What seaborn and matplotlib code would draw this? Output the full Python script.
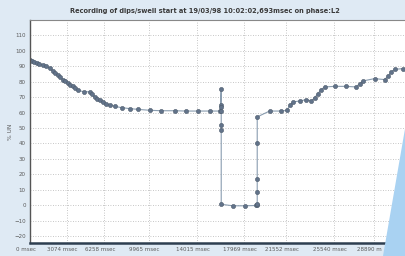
import matplotlib.pyplot as plt
import matplotlib.patches as mpatches
import matplotlib.transforms as mtransforms
from matplotlib.ticker import MultipleLocator
import pandas as pd
import seaborn as sns

# voltage level of phase L2 during the dip
time_ms = [0, 190, 378, 590, 798, 1080, 1361, 1640, 1916, 2130, 2336, 2550,
           2756, 2970, 3176, 3390, 3597, 3800, 4017, 4496, 5000, 5200, 5420,
           5630, 5840, 6100, 6403, 6750, 7101, 7700, 8361, 9059, 10042, 11025,
           12143, 13126, 14101, 15084, 15983,
           16067, 16067, 16067, 16067, 16067, 16067, 16067,
           17042, 18084, 18950, 19034,
           19092, 19092, 19092, 19092, 19092,
           20126, 21109, 21613, 21807, 22084, 22647, 23210, 23630, 23908,
           24185, 24471, 24748, 25588, 26571, 27412, 27689, 27966, 28950,
           29790, 30067, 30353, 30630, 31328]
level_pct = [94.3, 93.6, 92.8, 92.2, 91.7, 90.8, 90.0, 88.6, 87.0, 85.9, 84.6, 83.0,
             81.4, 80.3, 79.2, 78.1, 77.0, 75.7, 74.4, 73.6, 73.4, 71.8, 70.1,
             69.0, 68.0, 66.8, 65.8, 64.9, 64.1, 63.2, 62.6, 62.1, 61.5, 61.2,
             61.2, 61.0, 61.0, 61.0, 61.0,
             75.5, 64.7, 63.6, 61.0, 51.8, 48.5, 0.6,
             -0.4, -0.4, -0.2, 0.0,
             0.5, 8.6, 16.8, 40.6, 57.2,
             61.0, 61.0, 61.5, 64.7, 66.9, 67.5, 68.4, 67.5, 69.5,
             72.3, 74.9, 76.6, 77.0, 77.0, 76.6, 78.8, 80.5, 82.0,
             81.4, 83.5, 86.3, 88.0, 88.5]

tick_ms = [0, 3074, 6258, 9965, 14015, 17969, 21552, 25540, 28890]
tick_labels = ["0 msec", "3074 msec", "6258 msec", "9965 msec", "14015 msec",
               "17969 msec", "21552 msec", "25540 msec", "28890 m"]
y_ticks = list(range(-20, 111, 10))

df = pd.DataFrame({"t": time_ms, "v": level_pct})

sns.set_style("white")
plt.rcParams['font.family'] = ['DejaVu Sans']

fig = plt.figure(figsize=(4.06, 2.56), dpi=100, facecolor='#dfeaf4')
ax = fig.add_axes([30 / 406, 13 / 256, 380 / 406, 223 / 256])
ax.set_facecolor('white')

sns.lineplot(data=df, x="t", y="v", sort=False, estimator=None, ax=ax,
             color='#8a9db0', lw=0.8, marker='o', markersize=3.0,
             markerfacecolor='#62738a', markeredgecolor='#4d5b6b',
             markeredgewidth=0.4)

ax.set_xlim(0, 31930)
ax.set_ylim(-24.5, 120)
ax.set_xticks(tick_ms)
ax.set_xticklabels(tick_labels)
ax.set_yticks(y_ticks)
ax.yaxis.set_minor_locator(MultipleLocator(2))
ax.tick_params(axis='both', labelsize=4.0, colors='#5a5a5a', length=0, pad=3)
ax.tick_params(axis='y', which='minor', length=1.5, color='#aaaaaa', direction='in')
ax.grid(True, ls=(0, (1, 2)), color='#b4b4b4', lw=0.6)

# labels sit a little left of their grid lines on the recorder screen
shift = mtransforms.ScaledTranslation(-4 / 100, 0, fig.dpi_scale_trans)
for lab in ax.get_xticklabels():
    lab.set_transform(lab.get_transform() + shift)

ax.set_xlabel('')
ax.set_ylabel('% UN', fontsize=4.2, color='#5a5a5a', labelpad=1)

for side in ['top', 'right']:
    ax.spines[side].set_color('#888888')
    ax.spines[side].set_linewidth(0.8)
ax.spines['left'].set_color('#555555')
ax.spines['left'].set_linewidth(1.0)
ax.spines['bottom'].set_color('#2d3e50')
ax.spines['bottom'].set_linewidth(1.8)

fig.text(0.505, 1 - 11 / 256, "Recording of dips/swell start at 19/03/98 10:02:02,693msec on phase:L2",
         ha='center', va='center', fontsize=4.8, weight='bold', color='#3a3a3a')

# light blue corner of the scanned page
fig.patches.append(mpatches.Polygon([(383 / 406, 0), (406 / 406, 133 / 256), (1, 0)],
                                    closed=True, transform=fig.transFigure,
                                    facecolor='#a9d2f2', edgecolor='none', zorder=5))

fig.savefig('out.png', dpi=100, facecolor=fig.get_facecolor())
